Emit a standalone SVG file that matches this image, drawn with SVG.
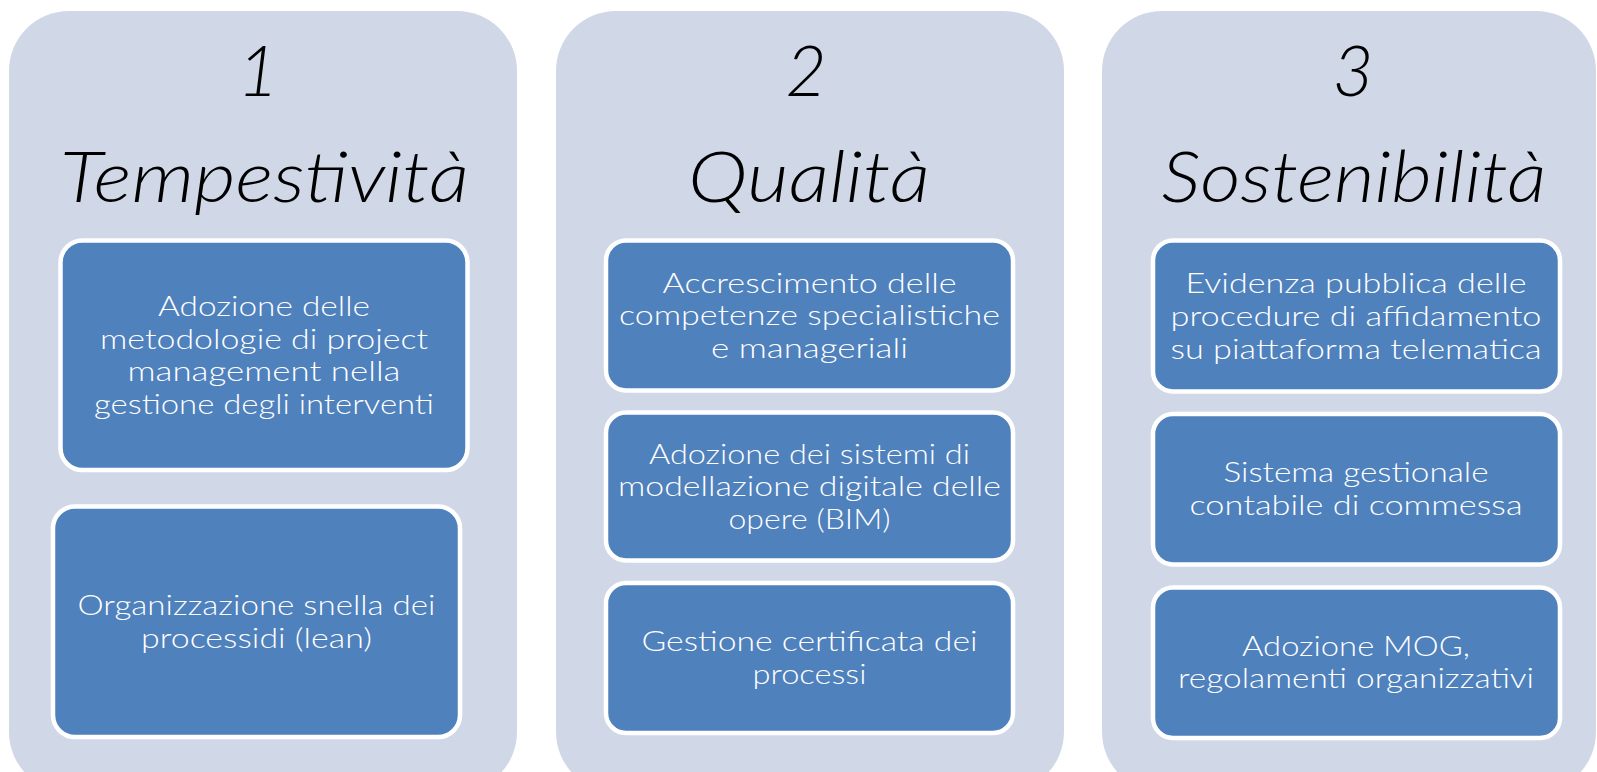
<svg xmlns="http://www.w3.org/2000/svg" width="1597" height="772" viewBox="0 0 1597 772">
<style>
.panel{fill:#D0D8E8;}
.box{fill:#4F81BD;stroke:#FFFFFF;stroke-width:4.5;}
.num{font-family:"Lato","Liberation Sans",sans-serif;font-weight:300;font-style:italic;font-size:71px;fill:#000000;text-anchor:middle;}
.title{font-family:"Lato","Liberation Sans",sans-serif;font-weight:300;font-style:italic;font-size:71px;fill:#000000;text-anchor:middle;}
.t{font-family:"Lato","Liberation Sans",sans-serif;font-weight:300;font-size:27px;fill:#FFFFFF;text-anchor:middle;}
</style>
<rect width="1597" height="772" fill="#FFFFFF"/>
<g id="panel1">
<rect class="panel" x="9" y="11" width="508" height="781" rx="60"/>
<text class="num" x="258" y="96">1</text>
<text class="title" x="264.5" y="202" textLength="409" lengthAdjust="spacingAndGlyphs">Tempestività</text>
</g>
<g id="p1-box1">
<rect class="box" x="60.5" y="240.5" width="407" height="229.5" rx="22"/>
<text class="t" x="264" y="316" textLength="212" lengthAdjust="spacingAndGlyphs">Adozione delle</text>
<text class="t" x="264" y="348.6" textLength="328" lengthAdjust="spacingAndGlyphs">metodologie di project</text>
<text class="t" x="264" y="381.2" textLength="273" lengthAdjust="spacingAndGlyphs">management nella</text>
<text class="t" x="264" y="413.8" textLength="340" lengthAdjust="spacingAndGlyphs">gestione degli interventi</text>
</g>
<g id="p1-box2">
<rect class="box" x="53" y="506.5" width="407" height="230.5" rx="22"/>
<text class="t" x="256.5" y="615" textLength="358" lengthAdjust="spacingAndGlyphs">Organizzazione snella dei</text>
<text class="t" x="256.5" y="647.6" textLength="231" lengthAdjust="spacingAndGlyphs">processidi (lean)</text>
</g>
<g id="panel2">
<rect class="panel" x="556" y="11" width="508" height="781" rx="60"/>
<text class="num" x="806" y="96">2</text>
<text class="title" x="809" y="202" textLength="242" lengthAdjust="spacingAndGlyphs">Qualità</text>
</g>
<g id="p2-box1">
<rect class="box" x="606" y="240.5" width="407" height="150" rx="20"/>
<text class="t" x="809.5" y="292.6" textLength="294" lengthAdjust="spacingAndGlyphs">Accrescimento delle</text>
<text class="t" x="809.5" y="325.2" textLength="381" lengthAdjust="spacingAndGlyphs">competenze specialistiche</text>
<text class="t" x="809.5" y="357.8" textLength="197" lengthAdjust="spacingAndGlyphs">e manageriali</text>
</g>
<g id="p2-box2">
<rect class="box" x="606" y="412.5" width="407" height="148" rx="20"/>
<text class="t" x="809.5" y="463.5" textLength="321" lengthAdjust="spacingAndGlyphs">Adozione dei sistemi di</text>
<text class="t" x="809.5" y="496.1" textLength="383" lengthAdjust="spacingAndGlyphs">modellazione digitale delle</text>
<text class="t" x="809.5" y="528.7" textLength="162" lengthAdjust="spacingAndGlyphs">opere (BIM)</text>
</g>
<g id="p2-box3">
<rect class="box" x="606" y="583" width="407" height="150" rx="20"/>
<text class="t" x="809.5" y="651.2" textLength="336" lengthAdjust="spacingAndGlyphs">Gestione certificata dei</text>
<text class="t" x="809.5" y="683.8" textLength="114" lengthAdjust="spacingAndGlyphs">processi</text>
</g>
<g id="panel3">
<rect class="panel" x="1102" y="11" width="494" height="781" rx="60"/>
<text class="num" x="1353" y="96">3</text>
<text class="title" x="1354" y="202" textLength="385" lengthAdjust="spacingAndGlyphs">Sostenibilità</text>
</g>
<g id="p3-box1">
<rect class="box" x="1153" y="240.5" width="407" height="151" rx="20"/>
<text class="t" x="1356" y="293.4" textLength="341" lengthAdjust="spacingAndGlyphs">Evidenza pubblica delle</text>
<text class="t" x="1356" y="326" textLength="371" lengthAdjust="spacingAndGlyphs">procedure di affidamento</text>
<text class="t" x="1356" y="358.6" textLength="371" lengthAdjust="spacingAndGlyphs">su piattaforma telematica</text>
</g>
<g id="p3-box2">
<rect class="box" x="1153" y="414" width="407" height="150.5" rx="20"/>
<text class="t" x="1356" y="482" textLength="265" lengthAdjust="spacingAndGlyphs">Sistema gestionale</text>
<text class="t" x="1356" y="514.6" textLength="333" lengthAdjust="spacingAndGlyphs">contabile di commessa</text>
</g>
<g id="p3-box3">
<rect class="box" x="1153" y="587.5" width="407" height="150.5" rx="20"/>
<text class="t" x="1356" y="655.6" textLength="228" lengthAdjust="spacingAndGlyphs">Adozione MOG,</text>
<text class="t" x="1356" y="688.2" textLength="356" lengthAdjust="spacingAndGlyphs">regolamenti organizzativi</text>
</g>
</svg>
